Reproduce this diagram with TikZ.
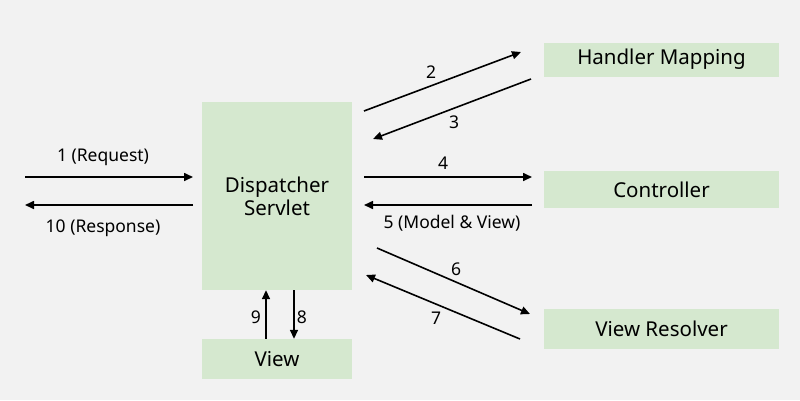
\documentclass[tikz,border=0pt]{standalone}
\usepackage{fontspec}
\setmainfont{Noto Sans}
\usetikzlibrary{arrows.meta}
\definecolor{bg}{HTML}{F2F2F2}
\definecolor{boxg}{HTML}{D5E8CF}
\begin{document}
\begin{tikzpicture}[x=1pt,y=-1pt,
  box/.style={fill=boxg,draw=none,inner sep=0pt,font=\fontsize{20.5}{24}\selectfont},
  lbl/.style={font=\fontsize{17.5}{20}\selectfont,inner sep=0pt},
  arr/.style={line width=1.6pt,-{Triangle[length=9pt,width=8pt]}}]
\fill[bg] (0,0) rectangle (800,400);
\useasboundingbox (0,0) rectangle (800,400);
% boxes
\node[box,minimum width=150pt,minimum height=188pt,align=center] (ds) at (277,196) {Dispatcher\\[-1pt]Servlet};
\node[box,minimum width=150pt,minimum height=40pt] (view) at (277,359) {View};
\node[box,minimum width=235pt,minimum height=34pt] (hm) at (661.5,59.5) {Handler Mapping};
\node[box,minimum width=235pt,minimum height=37pt] (ctl) at (661.5,189.5) {Controller};
\node[box,minimum width=235pt,minimum height=40pt] (vr) at (661.5,329) {View Resolver};
% coordinates
\coordinate (a1s) at (25,177); \coordinate (a1e) at (193,177);
\coordinate (a10s) at (193,205); \coordinate (a10e) at (25,205);
\coordinate (a2s) at (364,111); \coordinate (a2e) at (521,52);
\coordinate (a3s) at (531,79); \coordinate (a3e) at (373,139);
\coordinate (a4s) at (364,177); \coordinate (a4e) at (532,177);
\coordinate (a5s) at (532,205); \coordinate (a5e) at (364,205);
\coordinate (a6s) at (377,248); \coordinate (a6e) at (530,314);
\coordinate (a7s) at (520,339); \coordinate (a7e) at (366,275);
% arrows
\draw[arr] (a1s) -- (a1e);
\draw[arr] (a10s) -- (a10e);
\draw[arr] (a2s) -- (a2e);
\draw[arr] (a3s) -- (a3e);
\draw[arr] (a4s) -- (a4e);
\draw[arr] (a5s) -- (a5e);
\draw[arr] (a6s) -- (a6e);
\draw[arr] (a7s) -- (a7e);
\draw[arr] (view.north -| 266,0) -- (ds.south -| 266,0);
\draw[arr] (ds.south -| 294,0) -- (view.north -| 294,0);
% labels
\node[lbl] (l1) at (103,157) {1 (Request)};
\node[lbl] (l10) at (103,228) {10 (Response)};
\node[lbl] (l2) at (431,72) {2};
\node[lbl] (l3) at (454,122) {3};
\node[lbl] (l4) at (443,163) {4};
\node[lbl] (l5) at (452,223) {5 (Model \& View)};
\node[lbl] (l6) at (456,269) {6};
\node[lbl] (l7) at (436,318) {7};
\node[lbl] (l9) at (256,317) {9};
\node[lbl] (l8) at (302,317) {8};
\end{tikzpicture}
\end{document}
